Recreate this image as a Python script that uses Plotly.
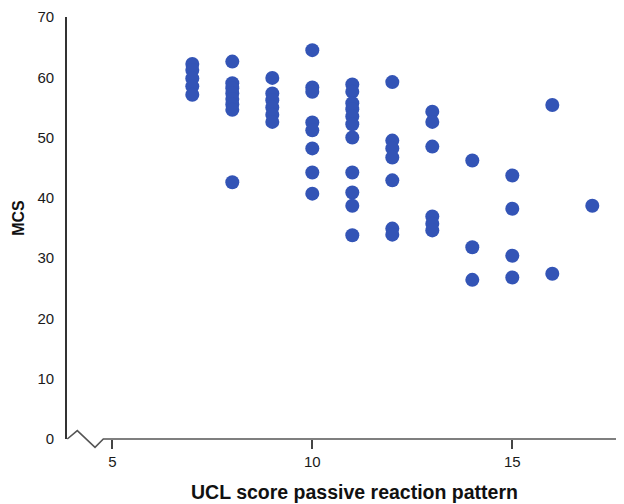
import plotly.graph_objects as go

# UCL passive score (x) and MCS (y), grouped per column
x7 = [62.2, 61.2, 59.8, 58.5, 57.1]
x8 = [62.6, 59.0, 58.2, 57.3, 56.4, 55.5, 54.6, 42.6]
x9 = [59.9, 57.3, 56.2, 55.0, 53.8, 52.6]
x10 = [64.5, 58.3, 57.6, 52.5, 51.2, 48.2, 44.2, 40.7]
x11 = [58.8, 57.6, 55.7, 54.7, 53.5, 52.2, 50.0, 44.2, 40.9, 38.7, 33.8]
x12 = [59.2, 49.5, 48.2, 46.7, 42.9, 34.9, 33.9]
x13 = [54.3, 52.6, 48.5, 36.9, 35.7, 34.6]
x14 = [46.2, 31.8, 26.4]
x15 = [43.7, 38.2, 30.4, 26.8]
x16 = [55.4, 27.4]
x17 = [38.7]

groups = {7: x7, 8: x8, 9: x9, 10: x10, 11: x11, 12: x12, 13: x13,
          14: x14, 15: x15, 16: x16, 17: x17}
xs, ys = [], []
for k, vals in groups.items():
    xs += [k] * len(vals)
    ys += vals

x_ticks = [5, 10, 15]
y_ticks = [0, 10, 20, 30, 40, 50, 60, 70]

OFF = 8  # page body margin
W, H = 624 - OFF, 504 - OFF
L, R, T = 67 - OFF, 0, 17 - OFF
ph = 439.3 - 17
B = H - T - ph
pw = W - L - R
xmin = 5 - (112.3 - 67) / 40.0
xmax = xmin + pw / 40.0

fig = go.Figure()
fig.add_trace(go.Scatter(
    x=xs, y=ys, mode="markers",
    marker=dict(size=14, color="#3354b6", line=dict(width=0)),
    cliponaxis=False, showlegend=False,
))

def px(xp):
    return (xp - 67) / pw

def py(yp):
    return (439.3 - yp) / ph

# axis break zigzag and x axis line
zig = [(67.3, 439.3), (77.3, 431), (95, 447.7), (103.3, 439.3), (630, 439.3)]
path = "M " + " L ".join(f"{px(a):.4f},{py(b):.4f}" for a, b in zig)
fig.add_shape(type="path", path=path, xref="paper", yref="paper",
              line=dict(color="#555555", width=1.6))

fig.update_layout(
    width=W, height=H,
    margin=dict(l=L, r=R, t=T, b=B),
    plot_bgcolor="white", paper_bgcolor="white",
    font=dict(family="Arial, Liberation Sans, sans-serif", color="#1a1a1a", size=15),
    xaxis=dict(range=[xmin, xmax], tickvals=x_ticks, ticktext=[str(v) for v in x_ticks],
               showgrid=False, zeroline=False, showline=False,
               ticks="outside", ticklen=9, tickwidth=2, tickcolor="#444444",
               tickfont=dict(size=15)),
    yaxis=dict(range=[0, 70], tickvals=y_ticks, ticktext=[str(v) for v in y_ticks],
               showgrid=False, zeroline=False, showline=True, linecolor="#333333",
               linewidth=1.6, ticks="", ticklabelstandoff=8, tickfont=dict(size=15)),
    annotations=[
        dict(text="<b>UCL score passive reaction pattern</b>", xref="paper", yref="paper",
             x=px(354), y=py(492), showarrow=False, xanchor="center", yanchor="middle",
             font=dict(size=19.5, color="#111111")),
        dict(text="<b>MCS</b>", xref="paper", yref="paper",
             x=px(19), y=py(218), showarrow=False, xanchor="center", yanchor="middle",
             textangle=-90, font=dict(size=16, color="#111111")),
    ],
)

fig.write_html("out.html")
